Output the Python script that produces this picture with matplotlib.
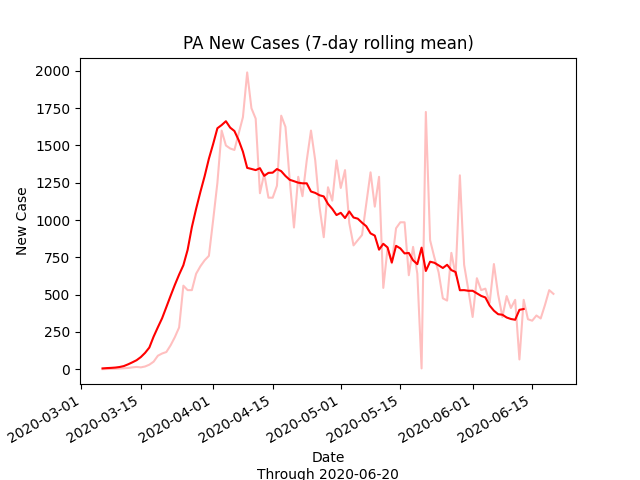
import matplotlib
matplotlib.use("Agg")
import matplotlib.pyplot as plt
import pandas as pd

# daily new cases, starting 2020-03-06
new_cases = [0, 1, 2, 3, 4, 6, 8, 12, 15, 12, 18, 30, 50, 90, 105, 115, 160, 215, 280,
             560, 530, 530, 640, 690, 730, 760, 1000, 1250, 1600, 1500, 1480, 1470, 1580,
             1690, 1990, 1750, 1680, 1180, 1310, 1150, 1150, 1230, 1700, 1625, 1270, 950,
             1290, 1160, 1400, 1600, 1400, 1090, 885, 1220, 1130, 1400, 1215, 1335, 980,
             830, 865, 900, 1110, 1320, 1090, 1290, 545, 810, 710, 945, 985, 985, 630, 820,
             640, 5, 1725, 865, 750, 650, 475, 460, 780, 630, 1300, 700, 530, 350, 610, 530,
             540, 445, 705, 500, 350, 490, 410, 465, 65, 465, 335, 325, 360, 340, 430, 530,
             505]
dates = pd.date_range("2020-03-06", periods=len(new_cases), freq="D")

s = pd.Series(new_cases, index=dates)
rolling = s.rolling(7).mean().shift(-7)

fig, ax = plt.subplots(figsize=(6.4, 4.8), dpi=100)
ax.plot(s.index, s.values, color="red", alpha=0.25)
ax.plot(rolling.index, rolling.values, color="red")
ax.set_title("PA New Cases (7-day rolling mean)")
ax.set_ylabel("New Case")
ax.set_xlabel("Date\nThrough 2020-06-20")
fig.autofmt_xdate()
fig.savefig("out.png")
